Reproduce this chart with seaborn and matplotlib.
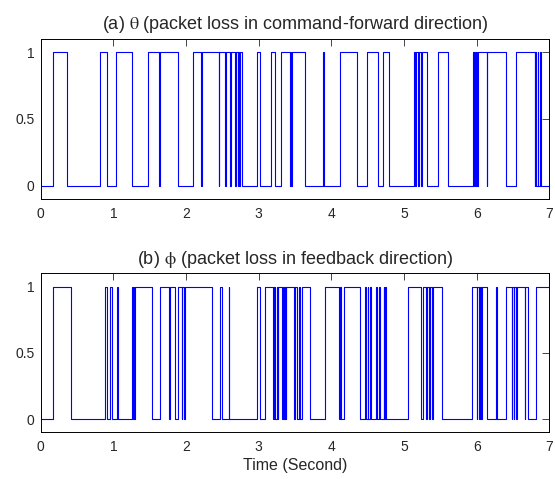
import numpy as np
import pandas as pd
import seaborn as sns
import matplotlib
matplotlib.use('Agg')
import matplotlib.pyplot as plt

# pulses where the loss indicator is 1: (start, end) in seconds
theta_start = [0.174, 0.810, 1.040, 1.474, 1.648, 2.097, 2.215, 2.458, 2.550, 2.620,
               2.690, 2.720, 2.747, 2.976, 3.173, 3.306, 3.440, 3.460, 3.890, 4.121,
               4.496, 4.716, 5.137, 5.160, 5.200, 5.245, 5.472, 5.952, 5.975, 6.000,
               6.025, 6.145, 6.548, 6.810, 6.840, 6.870]
theta_end = [0.357, 0.911, 1.260, 1.625, 1.886, 2.205, 2.449, 2.541, 2.610, 2.679,
             2.711, 2.734, 2.770, 3.022, 3.228, 3.430, 3.450, 3.640, 3.900, 4.350,
             4.647, 4.794, 5.150, 5.190, 5.235, 5.320, 5.609, 5.960, 5.985, 6.010,
             6.136, 6.401, 6.800, 6.820, 6.850, 6.890]

phi_start = [0.174, 0.879, 0.948, 1.044, 1.259, 1.280, 1.300, 1.648, 1.786, 1.886,
             1.950, 1.980, 2.473, 2.587, 2.976, 3.082, 3.210, 3.250, 3.270, 3.335,
             3.365, 3.380, 3.500, 3.550, 3.590, 3.915, 4.120, 4.170, 4.464, 4.500,
             4.530, 4.620, 4.660, 4.720, 4.745, 5.059, 5.260, 5.320, 5.360, 5.400,
             5.930, 6.010, 6.040, 6.080, 6.273, 6.401, 6.490, 6.520, 6.550, 6.670,
             6.820]
phi_end = [0.421, 0.916, 0.984, 1.062, 1.270, 1.290, 1.534, 1.763, 1.854, 1.940,
           1.970, 2.358, 2.496, 2.595, 3.022, 3.200, 3.230, 3.260, 3.320, 3.350,
           3.370, 3.480, 3.530, 3.570, 3.709, 4.100, 4.140, 4.396, 4.475, 4.510,
           4.540, 4.630, 4.670, 4.730, 4.755, 5.240, 5.300, 5.350, 5.380, 5.518,
           6.000, 6.030, 6.060, 6.136, 6.285, 6.480, 6.510, 6.540, 6.660, 6.705,
           7.000]

t_end = 7.0
titles = [r'(a) $\mathrm{\theta}$ (packet loss in command-forward direction)',
          r'(b) $\mathrm{\phi}$ (packet loss in feedback direction)']


def step_frame(starts, ends):
    t = [0.0]
    v = [0]
    for s, e in zip(starts, ends):
        t += [s, e]
        v += [1, 0]
    if t[-1] >= t_end:
        v[-1] = 1
    t.append(t_end)
    v.append(v[-1])
    return pd.DataFrame({'time': t, 'loss': v})


sns.set_style('white')
plt.rcParams['font.family'] = ['Liberation Sans', 'DejaVu Sans']
plt.rcParams['mathtext.fontset'] = 'stix'

fig = plt.figure(figsize=(5.55, 4.79), dpi=100)
ax1 = fig.add_axes([0.0733, 0.5846, 0.9164, 0.334])
ax2 = fig.add_axes([0.0733, 0.0975, 0.9164, 0.332])

for ax, (st, en), title in zip([ax1, ax2],
                               [(theta_start, theta_end), (phi_start, phi_end)],
                               titles):
    df = step_frame(st, en)
    sns.lineplot(data=df, x='time', y='loss', ax=ax, estimator=None, sort=False,
                 drawstyle='steps-post', color='#0000ff', linewidth=0.8)
    ax.set_xlim(0, 7)
    ax.set_ylim(-0.1, 1.1)
    ax.set_xticks(range(8))
    ax.set_yticks([0, 0.5, 1])
    ax.set_yticklabels(['0', '0.5', '1'])
    ax.tick_params(direction='in', top=True, right=True, length=5,
                   labelsize=10, width=0.6)
    ax.tick_params(axis='x', pad=5.5)
    ax.tick_params(axis='y', pad=4.5)
    for sp in ax.spines.values():
        sp.set_visible(True)
        sp.set_color('black')
        sp.set_linewidth(0.7)
    ax.set_title(title, fontsize=13, pad=7)
    ax.set_ylabel('')
    ax.set_xlabel('')

ax2.set_xlabel('Time (Second)', fontsize=11.5, labelpad=3)

fig.savefig('out.png', dpi=100)
